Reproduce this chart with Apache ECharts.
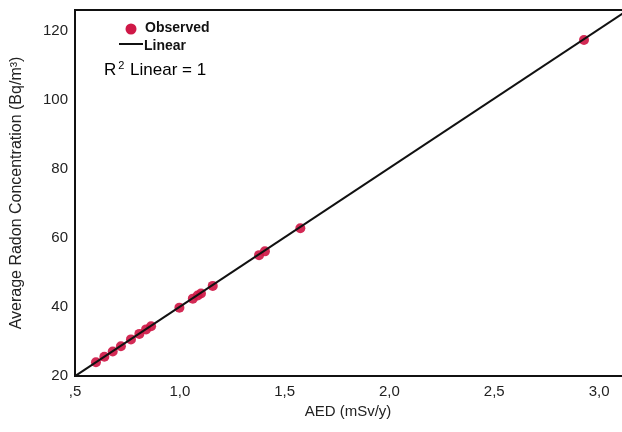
<!DOCTYPE html>
<html>
<head>
<meta charset="utf-8">
<script src="https://cdn.jsdelivr.net/npm/echarts@6/dist/echarts.min.js"></script>
<style>html,body{margin:0;padding:0;background:#fff;overflow:hidden;width:622px;height:432px}#c{width:660px;height:432px}</style>
</head>
<body>
<div id="c"></div>
<script>
// Observed data: AED (mSv/y) vs Average Radon Concentration (Bq/m3)
const aedValues   = [0.600, 0.640, 0.680, 0.719, 0.767, 0.807, 0.839, 0.863, 0.998, 1.062, 1.085, 1.101, 1.157, 1.378, 1.406, 1.575, 2.928];
const radonValues = [24.0, 25.6, 27.1, 28.6, 30.6, 32.2, 33.5, 34.4, 39.8, 42.4, 43.3, 43.9, 46.1, 55.0, 56.1, 62.8, 117.3];
// Linear fit line endpoints
const fitX = [0.5, 3.2];
const fitY = [19.95, 128.5];
// Axis tick labels
const xTicks = [0.5, 1.0, 1.5, 2.0, 2.5, 3.0];
const yTicks = [20, 40, 60, 80, 100, 120];

const FONT = '"Liberation Sans", Arial, sans-serif';
const chart = echarts.init(document.getElementById('c'), null, {renderer: 'canvas'});
const fmtX = v => {
  if (!xTicks.some(t => Math.abs(t - v) < 1e-6)) return '';
  let s = v.toFixed(1).replace('.', ',');
  if (s.startsWith('0')) s = s.slice(1);
  return s;
};
chart.setOption({
  animation: false,
  backgroundColor: '#fff',
  grid: {left: 75, top: 10, width: 566, height: 366, show: true, borderColor: '#111', borderWidth: 2, backgroundColor: 'transparent'},
  xAxis: {
    type: 'value', min: 0.5, max: 3.2, interval: 0.5,
    name: 'AED (mSv/y)', nameLocation: 'middle', nameGap: 26,
    nameTextStyle: {fontFamily: FONT, fontSize: 15, color: '#222', padding: [0, 20, 0, 0]},
    axisLine: {show: true, lineStyle: {color: '#111', width: 2}},
    axisTick: {show: false},
    splitLine: {show: false},
    axisLabel: {formatter: fmtX, fontFamily: FONT, fontSize: 15, color: '#222', margin: 8}
  },
  yAxis: {
    type: 'value', min: 20, max: 126, interval: 20,
    name: 'Average Radon Concentration (Bq/m³)', nameLocation: 'middle', nameGap: 50,
    nameTextStyle: {fontFamily: FONT, fontSize: 16, color: '#222'},
    axisLine: {show: true, lineStyle: {color: '#111', width: 2}},
    axisTick: {show: false},
    splitLine: {show: false},
    axisLabel: {formatter: v => yTicks.includes(v) ? String(v) : '', fontFamily: FONT, fontSize: 15, color: '#222', margin: 7}
  },
  series: [
    {
      name: 'Observed', type: 'scatter', symbol: 'circle', symbolSize: 10,
      itemStyle: {color: '#cf1847', opacity: 0.92},
      data: aedValues.map((x, i) => [x, radonValues[i]]), z: 2
    },
    {
      name: 'Linear', type: 'line', showSymbol: false, symbol: 'none', clip: true,
      lineStyle: {color: '#111', width: 2},
      data: fitX.map((x, i) => [x, fitY[i]]), z: 3
    }
  ],
  graphic: [
    {type: 'circle', shape: {cx: 131, cy: 29, r: 5.5}, style: {fill: '#cf1847'}},
    {type: 'text', left: 145, top: 21, style: {text: 'Observed', font: 'bold 14px ' + FONT, fill: '#111'}},
    {type: 'line', shape: {x1: 119, y1: 44, x2: 143, y2: 44}, style: {stroke: '#111', lineWidth: 2}},
    {type: 'text', left: 144, top: 39, style: {text: 'Linear', font: 'bold 14px ' + FONT, fill: '#111'}},
    {type: 'text', left: 104, top: 60, style: {
      text: '{a|R}{s|2}{a| Linear = 1}',
      rich: {
        a: {fontFamily: FONT, fontSize: 17, color: '#111'},
        s: {fontFamily: FONT, fontSize: 11, color: '#111', padding: [0, 1, 10, 2]}
      }
    }}
  ]
});
</script>
</body>
</html>
